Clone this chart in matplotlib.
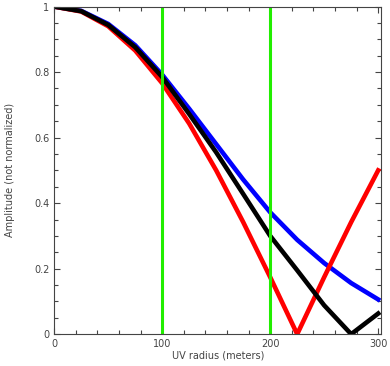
import matplotlib
matplotlib.use('Agg')
import matplotlib.pyplot as plt
from matplotlib.ticker import MultipleLocator

# uv radius samples (meters)
uv = [0, 25, 50, 75, 100, 125, 150, 175, 200, 225, 250, 275, 300]

# amplitudes
amp_red = [1.0, 0.985, 0.94, 0.866, 0.766, 0.643, 0.50, 0.342, 0.174, 0.0, 0.174, 0.342, 0.50]
amp_black = [1.0, 0.986, 0.944, 0.876, 0.785, 0.672, 0.555, 0.428, 0.30, 0.195, 0.088, 0.0, 0.063]
amp_blue = [1.0, 0.987, 0.947, 0.882, 0.792, 0.688, 0.580, 0.472, 0.372, 0.288, 0.217, 0.156, 0.106]

# vertical markers
vlines = [100, 200]

xticks = [0, 100, 200, 300]
yticks = [0, 0.2, 0.4, 0.6, 0.8, 1.0]
ytick_labels = ['0', '0.2', '0.4', '0.6', '0.8', '1']

grey = '#444444'

fig = plt.figure(figsize=(3.9, 3.66), dpi=100)
ax = fig.add_axes([0.139, 0.087, 0.839, 0.895])

lw = 3.3
ax.plot(uv, amp_blue, color='#0000ff', lw=lw, solid_joinstyle='miter')
ax.plot(uv, amp_red, color='#ff0000', lw=lw, solid_joinstyle='miter')
ax.plot(uv, amp_black, color='black', lw=lw, solid_joinstyle='miter')
for xv in vlines:
    ax.axvline(xv, color='#22ee00', lw=2.2)

ax.set_xlim(0, 303)
ax.set_ylim(0, 1)
ax.set_xticks(xticks)
ax.set_yticks(yticks)
ax.set_yticklabels(ytick_labels)
ax.xaxis.set_minor_locator(MultipleLocator(20))
ax.yaxis.set_minor_locator(MultipleLocator(0.05))
ax.tick_params(which='both', direction='in', top=True, right=True,
               colors=grey, labelsize=7, width=0.8)
ax.tick_params(which='major', length=4)
ax.tick_params(which='minor', length=3)
for s in ax.spines.values():
    s.set_color(grey)
    s.set_linewidth(0.8)

ax.set_xlabel('UV radius (meters)', fontsize=7, color=grey, labelpad=1)
ax.set_ylabel('Amplitude (not normalized)', fontsize=7, color=grey, labelpad=14)

fig.savefig('out.png', dpi=100)
